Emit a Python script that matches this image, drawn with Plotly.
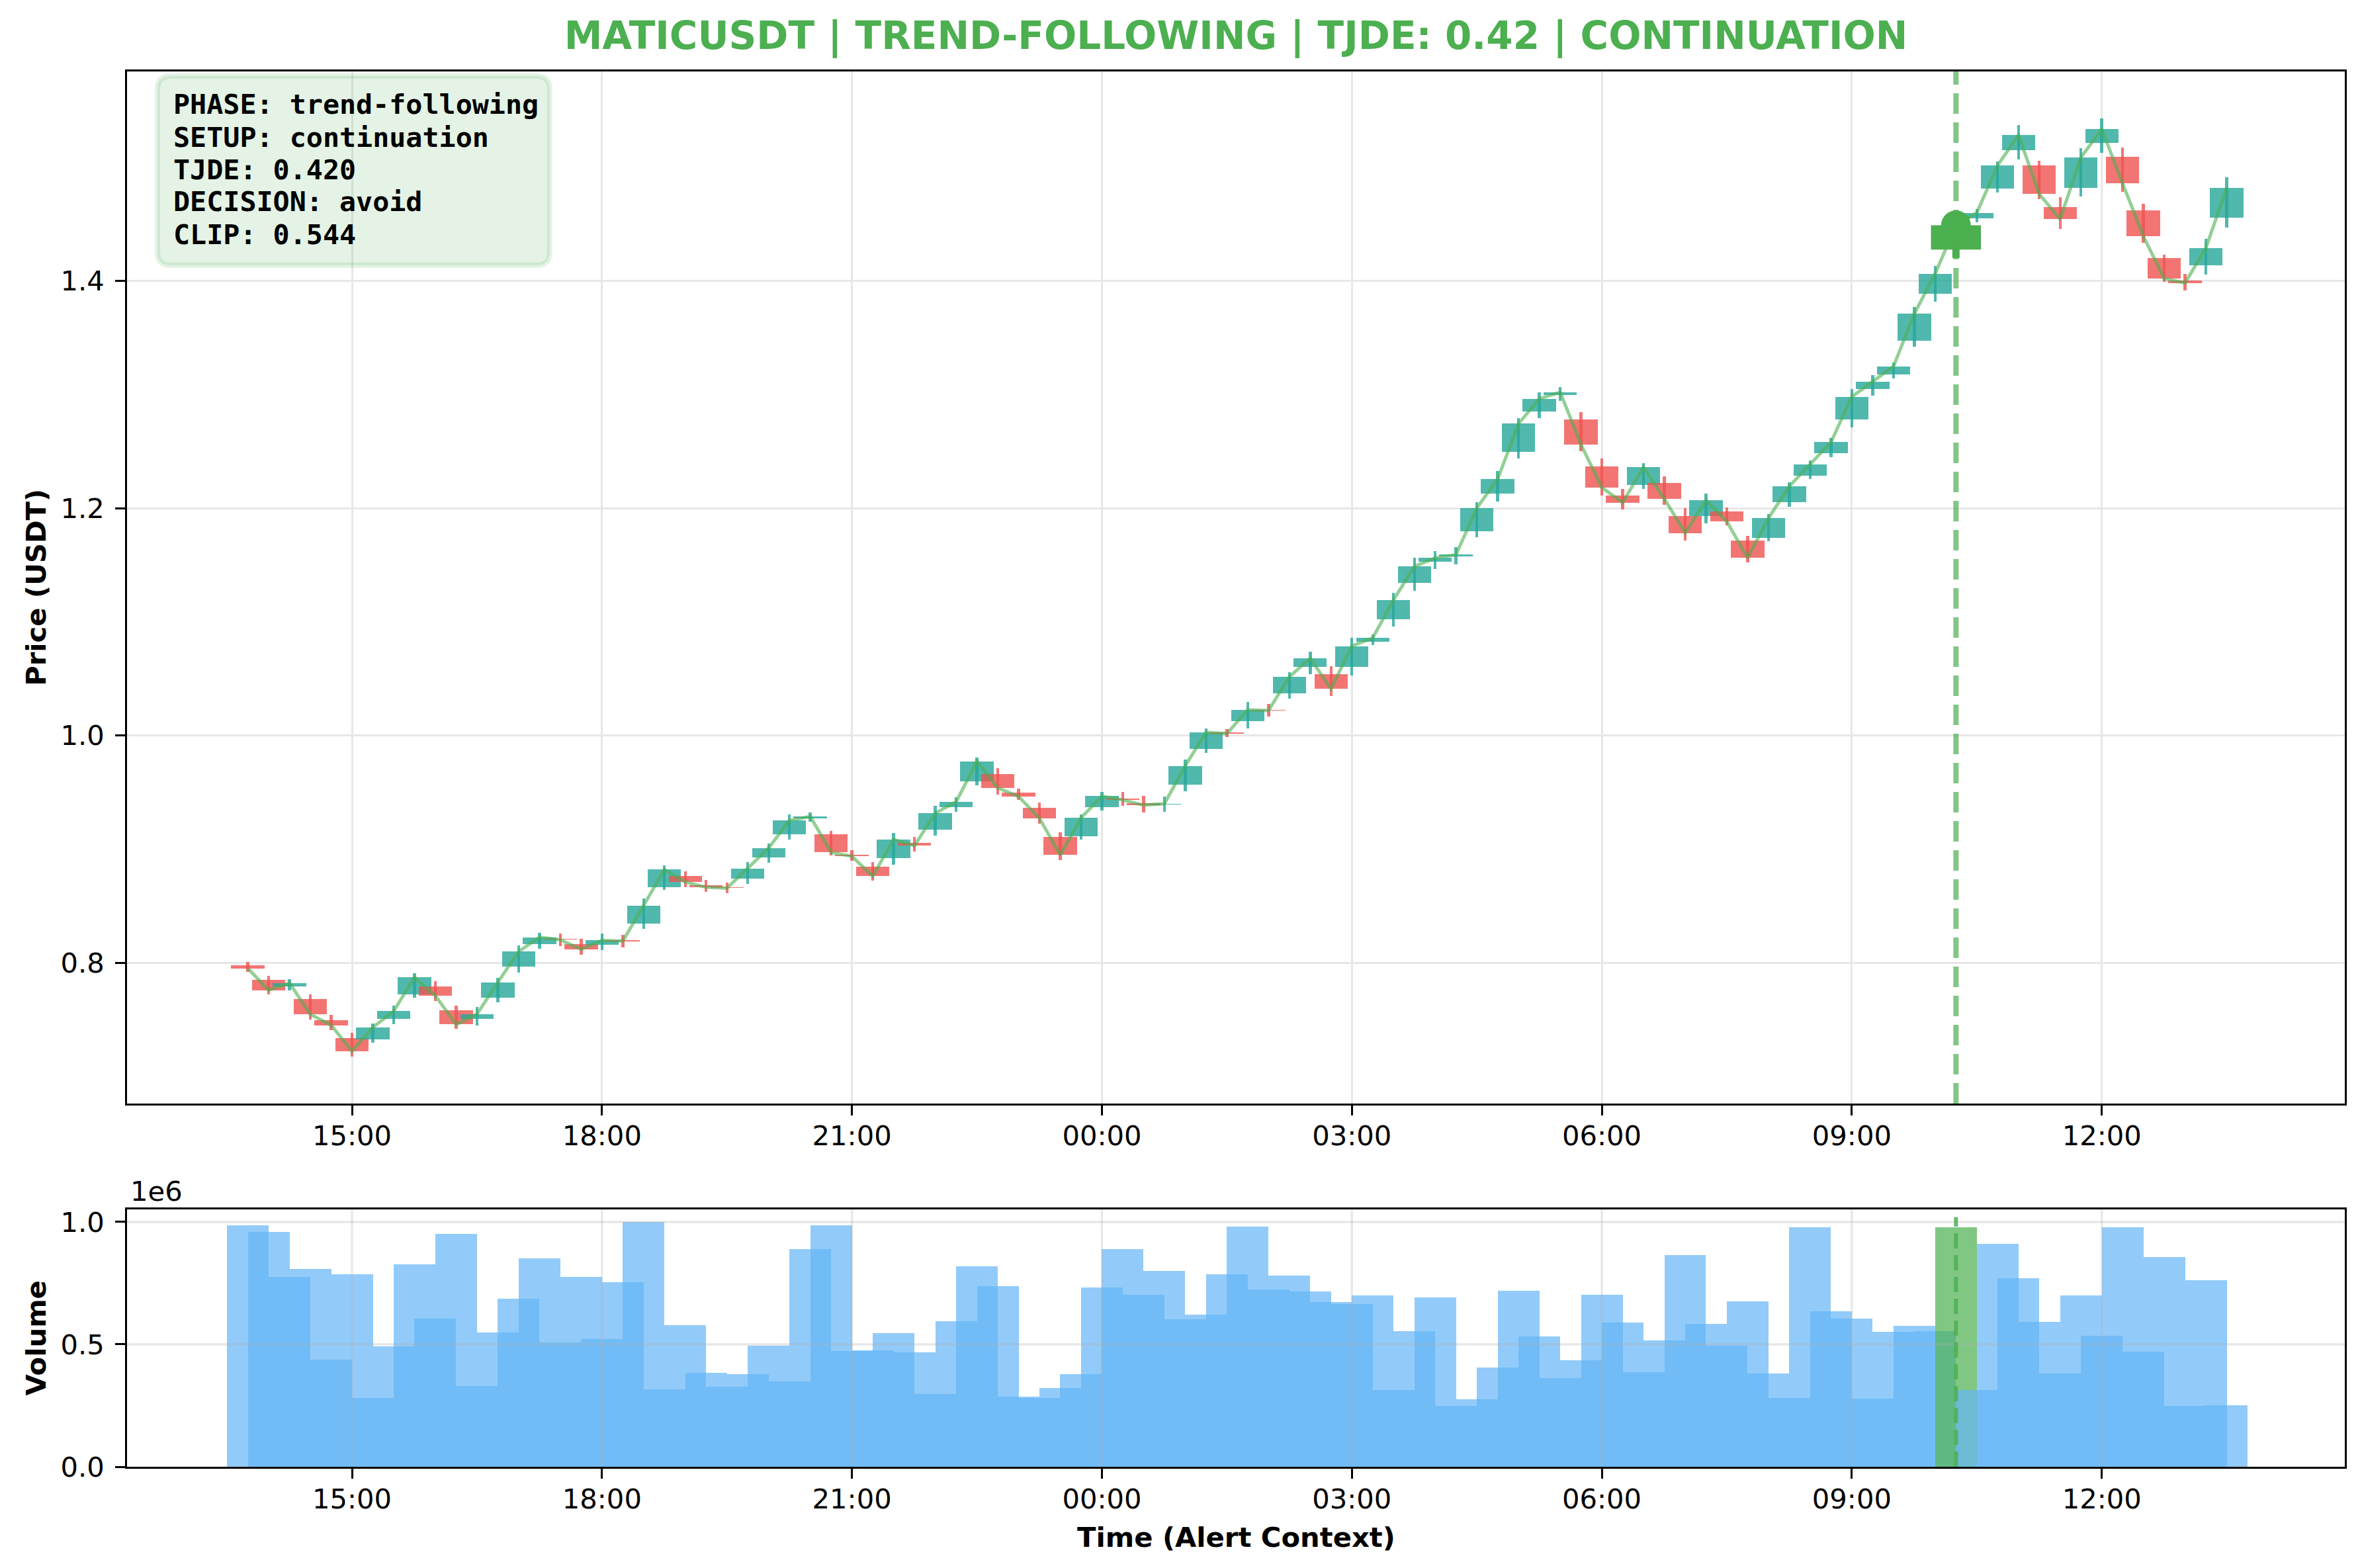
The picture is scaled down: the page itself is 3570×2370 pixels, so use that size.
import pandas as pd
import plotly.graph_objects as go
from plotly.subplots import make_subplots

# alert context
symbol = "MATICUSDT"
phase = "trend-following"
setup = "continuation"
tjde = 0.420
decision = "avoid"
clip_score = 0.544
alert_idx = 82

# 15m candles, 13:45 -> 13:30 next day
times = pd.date_range("2025-01-14 13:45", periods=96, freq="15min")

opens = [0.7976, 0.7852, 0.7795, 0.7681, 0.7498, 0.7338, 0.7326, 0.7506, 0.7724, 0.7793,
         0.7586, 0.7506, 0.7695, 0.7967, 0.8167, 0.8213, 0.8164, 0.8160, 0.8199, 0.8346,
         0.8665, 0.8762, 0.8684, 0.8665, 0.8744, 0.8926, 0.9134, 0.9273, 0.9132, 0.8953,
         0.8848, 0.8920, 0.9057, 0.9174, 0.9371, 0.9597, 0.9659, 0.9497, 0.9363, 0.9109,
         0.9111, 0.9370, 0.9448, 0.9406, 0.9392, 0.9565, 0.9881, 1.0025, 1.0125, 1.0227,
         1.0370, 1.0601, 1.0540, 1.0601, 1.0827, 1.1024, 1.1340, 1.1531, 1.1576, 1.1796,
         1.2131, 1.2496, 1.2849, 1.2993, 1.2783, 1.2366, 1.2110, 1.2205, 1.2221, 1.1931,
         1.1929, 1.1971, 1.1716, 1.1736, 1.2054, 1.2286, 1.2483, 1.2779, 1.3046, 1.3179,
         1.3474, 1.3886, 1.4275, 1.4548, 1.4809, 1.5152, 1.5016, 1.4650, 1.4815, 1.5216,
         1.5092, 1.4621, 1.4203, 1.4000, 1.4136, 1.4554]
highs = [0.8006, 0.7888, 0.7858, 0.7722, 0.7545, 0.7385, 0.7468, 0.7626, 0.7907, 0.7840,
         0.7622, 0.7610, 0.7870, 0.8154, 0.8266, 0.8258, 0.8213, 0.8256, 0.8248, 0.8567,
         0.8860, 0.8808, 0.8727, 0.8709, 0.8889, 0.9051, 0.9306, 0.9323, 0.9161, 0.8993,
         0.8889, 0.9143, 0.9109, 0.9381, 0.9456, 0.9809, 0.9716, 0.9531, 0.9410, 0.9149,
         0.9306, 0.9501, 0.9501, 0.9466, 0.9462, 0.9787, 1.0063, 1.0058, 1.0295, 1.0277,
         1.0559, 1.0737, 1.0609, 1.0858, 1.0887, 1.1257, 1.1562, 1.1620, 1.1660, 1.2054,
         1.2324, 1.2794, 1.3020, 1.3067, 1.2847, 1.2435, 1.2168, 1.2395, 1.2279, 1.2000,
         1.2128, 1.2006, 1.1757, 1.1948, 1.2226, 1.2420, 1.2615, 1.3050, 1.3171, 1.3281,
         1.3768, 1.4133, 1.4550, 1.4633, 1.5051, 1.5371, 1.5057, 1.4738, 1.5167, 1.5429,
         1.5173, 1.4680, 1.4232, 1.4062, 1.4372, 1.4912]
lows = [0.7923, 0.7724, 0.7760, 0.7504, 0.7411, 0.7175, 0.7297, 0.7458, 0.7695, 0.7665,
        0.7423, 0.7452, 0.7651, 0.7913, 0.8124, 0.8148, 0.8071, 0.8112, 0.8136, 0.8297,
        0.8640, 0.8665, 0.8625, 0.8611, 0.8692, 0.8883, 0.9086, 0.9244, 0.8943, 0.8900,
        0.8723, 0.8862, 0.8978, 0.9117, 0.9331, 0.9562, 0.9481, 0.9435, 0.9226, 0.8906,
        0.9082, 0.9340, 0.9379, 0.9321, 0.9332, 0.9512, 0.9849, 0.9986, 1.0063, 1.0166,
        1.0324, 1.0540, 1.0347, 1.0530, 1.0798, 1.0960, 1.1271, 1.1466, 1.1506, 1.1743,
        1.2060, 1.2437, 1.2790, 1.2941, 1.2499, 1.2112, 1.1991, 1.2170, 1.2031, 1.1713,
        1.1869, 1.1852, 1.1521, 1.1707, 1.2014, 1.2257, 1.2449, 1.2709, 1.2988, 1.3144,
        1.3420, 1.3816, 1.4200, 1.4513, 1.4774, 1.5065, 1.4716, 1.4455, 1.4740, 1.5123,
        1.4780, 1.4335, 1.3990, 1.3917, 1.4056, 1.4467]
closes = [0.7951, 0.7760, 0.7823, 0.7547, 0.7452, 0.7222, 0.7433, 0.7575, 0.7874, 0.7712,
          0.7458, 0.7549, 0.7829, 0.8100, 0.8225, 0.8203, 0.8120, 0.8199, 0.8191, 0.8500,
          0.8820, 0.8711, 0.8665, 0.8657, 0.8831, 0.9010, 0.9253, 0.9288, 0.8972, 0.8937,
          0.8763, 0.9086, 0.9030, 0.9317, 0.9416, 0.9774, 0.9539, 0.9464, 0.9273, 0.8949,
          0.9277, 0.9466, 0.9433, 0.9387, 0.9400, 0.9733, 1.0029, 1.0017, 1.0227, 1.0220,
          1.0517, 1.0679, 1.0411, 1.0787, 1.0858, 1.1194, 1.1487, 1.1562, 1.1591, 1.2002,
          1.2256, 1.2743, 1.2963, 1.3020, 1.2559, 1.2182, 1.2049, 1.2360, 1.2083, 1.1782,
          1.2068, 1.1883, 1.1562, 1.1913, 1.2192, 1.2383, 1.2580, 1.2980, 1.3113, 1.3247,
          1.3710, 1.4062, 1.4488, 1.4598, 1.5016, 1.5282, 1.4763, 1.4542, 1.5086, 1.5334,
          1.4856, 1.4391, 1.4019, 1.3981, 1.4290, 1.4819]
volumes = [987000, 958000, 776000, 808000, 437000, 787000, 280000, 491000, 827000, 605000,
           952000, 329000, 548000, 687000, 852000, 508000, 776000, 521000, 754000, 1001000,
           315000, 578000, 383000, 326000, 378000, 494000, 348000, 890000, 985000, 472000,
           475000, 546000, 467000, 296000, 594000, 819000, 738000, 285000, 280000, 321000,
           378000, 733000, 890000, 703000, 800000, 603000, 622000, 787000, 982000, 724000,
           781000, 716000, 673000, 665000, 700000, 313000, 554000, 692000, 248000, 275000,
           405000, 719000, 532000, 361000, 435000, 703000, 589000, 386000, 516000, 865000,
           584000, 494000, 676000, 380000, 280000, 977000, 635000, 605000, 277000, 551000,
           575000, 554000, 977000, 313000, 911000, 771000, 592000, 380000, 700000, 535000,
           977000, 470000, 857000, 248000, 762000, 250000]

MIN = 60000  # ms
TEAL = "rgba(38,166,154,0.8)"
RED = "rgba(239,83,80,0.8)"
GREEN = "#4CAF50"
GRID = "rgba(176,176,176,0.3)"

candle_colors = [TEAL if c >= o else RED for o, c in zip(opens, closes)]
body_base = [min(o, c) for o, c in zip(opens, closes)]
body_size = [abs(c - o) for o, c in zip(opens, closes)]
wick_size = [h - l for h, l in zip(highs, lows)]
vol_colors = ["rgba(100,181,246,0.7)"] * len(volumes)
vol_colors[alert_idx] = "rgba(76,175,80,0.7)"

fig = make_subplots(rows=2, cols=1)

# candle bodies + wicks
fig.add_trace(go.Bar(x=times, y=body_size, base=body_base, width=24 * MIN,
                     marker=dict(color=candle_colors, line=dict(width=0))), row=1, col=1)
fig.add_trace(go.Bar(x=times, y=wick_size, base=lows, width=2.1 * MIN,
                     marker=dict(color=candle_colors, line=dict(width=0))), row=1, col=1)
# close line
fig.add_trace(go.Scatter(x=times, y=closes, mode="lines",
                         line=dict(color="rgba(76,175,80,0.6)", width=5)), row=1, col=1)

# alert candle highlight
t_a = times[alert_idx]
half = pd.Timedelta(minutes=18)
fig.add_trace(go.Scatter(x=[t_a - half, t_a + half, t_a + half, t_a - half, t_a - half],
                         y=[opens[alert_idx], opens[alert_idx], closes[alert_idx],
                            closes[alert_idx], opens[alert_idx]],
                         mode="lines", fill="toself", fillcolor=GREEN,
                         line=dict(width=0, color=GREEN)), row=1, col=1)
fig.add_trace(go.Scatter(x=[t_a, t_a], y=[lows[alert_idx], highs[alert_idx]], mode="lines",
                         line=dict(color=GREEN, width=11)), row=1, col=1)
fig.add_trace(go.Scatter(x=[t_a], y=[closes[alert_idx]], mode="markers",
                         marker=dict(color=GREEN, size=45, line=dict(width=0))), row=1, col=1)

# volume
fig.add_trace(go.Bar(x=times, y=volumes, width=30 * MIN,
                     marker=dict(color=vol_colors, line=dict(width=0))), row=2, col=1)

# volume grid drawn over the bars (like matplotlib)
grid_times = pd.date_range("2025-01-14 15:00", "2025-01-15 12:00", freq="3h")
for gt in grid_times:
    fig.add_shape(type="line", xref="x2", yref="y2 domain", x0=gt, x1=gt, y0=0, y1=1,
                  line=dict(color=GRID, width=3.3), layer="above")
for gv in [500000, 1000000]:
    fig.add_shape(type="line", xref="x2 domain", yref="y2", x0=0, x1=1, y0=gv, y1=gv,
                  line=dict(color=GRID, width=3.3), layer="above")

# alert vertical markers
fig.add_shape(type="line", xref="x", yref="y domain", x0=t_a, x1=t_a, y0=0, y1=1,
              line=dict(color="rgba(76,175,80,0.7)", width=8, dash="31px,13px"), layer="above")
fig.add_shape(type="line", xref="x2", yref="y2 domain", x0=t_a, x1=t_a, y0=0, y1=0.97,
              line=dict(color="rgba(76,175,80,0.85)", width=6, dash="23px,10px"), layer="above")

# ranges (mpl-like 5% margin on price)
lo, hi = min(lows), max(highs)
pad = (hi - lo) * 0.05
x_range = ["2025-01-14 12:18", "2025-01-15 14:55"]

FONT = "DejaVu Sans"
TICK = 41.7
axis_style = dict(showline=True, mirror=True, linecolor="black", linewidth=3.3,
                  ticks="outside", ticklen=14.6, tickwidth=3.3, tickcolor="black",
                  showgrid=True, gridcolor="rgb(231,231,231)", gridwidth=3.3,
                  zeroline=False, tickfont=dict(family=FONT, size=TICK, color="black"))

fig.update_xaxes(axis_style)
fig.update_yaxes(axis_style)
fig.update_xaxes(type="date", range=x_range, dtick=3 * 3600 * 1000,
                 tick0="2025-01-14 00:00", tickformat="%H:%M", ticklabelstandoff=-5)
fig.update_yaxes(ticklabelstandoff=8)
fig.update_yaxes(range=[lo - pad, hi + pad], dtick=0.2, tickformat=".1f",
                 domain=[0.2603, 1.0], row=1, col=1)
fig.update_yaxes(range=[0, max(volumes) * 1.05], tickvals=[0, 500000, 1000000],
                 ticktext=["0.0", "0.5", "1.0"], domain=[0.0, 0.1844], showgrid=False,
                 row=2, col=1)
fig.update_xaxes(showgrid=False, row=2, col=1)

# info box
x0, x1, y0, y1 = 0.0137, 0.1906, 0.8611, 0.9967
rx, ry = 0.006, 0.0095
box = (f"M {x0 + rx},{y0} L {x1 - rx},{y0} Q {x1},{y0} {x1},{y0 + ry} "
       f"L {x1},{y1 - ry} Q {x1},{y1} {x1 - rx},{y1} L {x0 + rx},{y1} "
       f"Q {x0},{y1} {x0},{y1 - ry} L {x0},{y0 + ry} Q {x0},{y0} {x0 + rx},{y0} Z")
fig.add_shape(type="path", path=box, xref="paper", yref="paper",
              fillcolor="rgba(76,175,80,0.15)", line=dict(color="rgba(76,175,80,0.15)", width=8),
              layer="above")

info_lines = [f"PHASE: {phase}", f"SETUP: {setup}", f"TJDE: {tjde:.3f}",
              f"DECISION: {decision}", f"CLIP: {clip_score:.3f}"]
for i, line in enumerate(info_lines):
    py = 150 + 49 * i  # px from top of figure
    fig.add_annotation(text=f"<b>{line}</b>", xref="paper", yref="paper",
                       x=(252 - 184) / 3352, y=1 - (py - 100) / 2109,
                       xanchor="left", yanchor="middle", align="left", showarrow=False,
                       font=dict(family="DejaVu Sans Mono", size=41.7, color="black"))

# axis titles and offset text
fig.add_annotation(text="<b>Price (USDT)</b>", xref="paper", yref="paper", x=-0.0409, y=0.6302,
                   textangle=-90, showarrow=False, xanchor="center", yanchor="middle",
                   font=dict(family=FONT, size=TICK, color="black"))
fig.add_annotation(text="<b>Volume</b>", xref="paper", yref="paper", x=-0.0409, y=0.0922,
                   textangle=-90, showarrow=False, xanchor="center", yanchor="middle",
                   font=dict(family=FONT, size=TICK, color="black"))
fig.add_annotation(text="<b>Time (Alert Context)</b>", xref="paper", yref="paper", x=0.5, y=-0.0507,
                   showarrow=False, xanchor="center", yanchor="middle",
                   font=dict(family=FONT, size=TICK, color="black"))
fig.add_annotation(text="1e6", xref="paper", yref="paper", x=0.001, y=0.1973,
                   showarrow=False, xanchor="left", yanchor="middle",
                   font=dict(family=FONT, size=TICK, color="black"))

title = f"{symbol} | {phase.upper()} | TJDE: {tjde:.2f} | {setup.upper()}"
fig.update_layout(
    width=3570, height=2370,
    margin=dict(l=184, r=34, t=100, b=161),
    paper_bgcolor="white", plot_bgcolor="white",
    barmode="overlay", bargap=0, showlegend=False,
    title=dict(text=f"<b>{title}</b>", x=0.5, xref="paper", xanchor="center",
               y=1 - 46 / 2370, yref="container", yanchor="middle",
               font=dict(family=FONT, size=58, color=GREEN)),
    font=dict(family=FONT, color="black"),
)

fig.write_html("out.html")
